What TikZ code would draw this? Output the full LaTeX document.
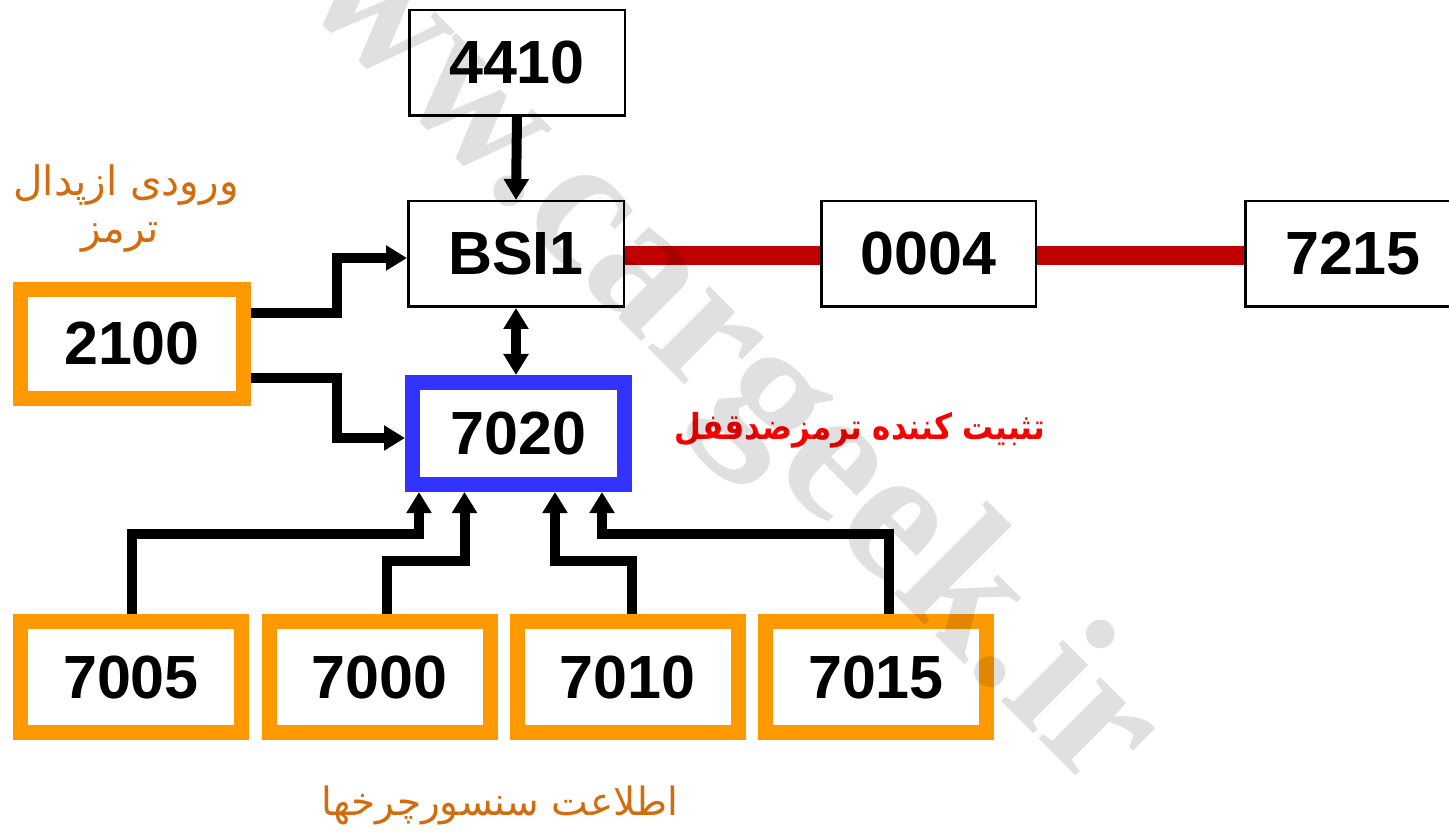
\documentclass[tikz,border=0pt]{standalone}
\usepackage{fontspec}
\setmainfont{Liberation Sans}
\newfontfamily\arabicfont[Script=Arabic]{DejaVu Sans}
\newfontfamily\wmfont{Liberation Serif}
\TeXXeTstate=1
\usetikzlibrary{arrows.meta}
\definecolor{boxorange}{RGB}{255,153,0}
\definecolor{boxblue}{RGB}{51,51,255}
\definecolor{busred}{RGB}{192,0,0}
\definecolor{labelorange}{RGB}{210,108,12}
\definecolor{labelred}{RGB}{250,0,0}
\begin{document}
\begin{tikzpicture}[x=1pt,y=-1pt,
  boxtext/.style={inner sep=0pt, font=\fontsize{61}{61}\selectfont\bfseries},
  thinbox/.style={boxtext, draw=black, line width=2.5pt, fill=white, minimum width=215.5pt, minimum height=105.5pt},
  orbox/.style={boxtext, draw=boxorange, line width=15pt, fill=white, minimum width=221pt, minimum height=111pt},
  bluebox/.style={boxtext, draw=boxblue, line width=15pt, fill=white, minimum width=212pt, minimum height=102pt},
  conn/.style={line width=10pt, -{Triangle[width=24pt,length=21pt]}},
  dconn/.style={line width=10pt, {Triangle[width=24pt,length=21pt]}-{Triangle[width=24pt,length=21pt]}},
  bus/.style={draw=busred, line width=19pt},
  ortext/.style={text=labelorange, inner sep=0pt, font=\arabicfont\fontsize{40.5}{42}\selectfont},
  redtext/.style={text=labelred, inner sep=0pt, font=\arabicfont\bfseries\fontsize{34}{36}\selectfont}
]
\useasboundingbox (0,0) rectangle (1449,834);
\clip (0,0) rectangle (1449,834);
\fill[white] (0,0) rectangle (1449,834);

% boxes
\node[thinbox] (b4410) at (517,63) {4410};
\node[thinbox] (bsi) at (516,254) {BSI1};
\node[thinbox, minimum width=214.5pt] (b0004) at (928.5,254) {0004};
\node[thinbox] (b7215) at (1353,254) {7215};
\node[bluebox] (b7020) at (518.5,433.5) {7020};
\node[orbox, minimum width=223pt, minimum height=109pt] (b2100) at (132,344) {2100};
\node[orbox] (b7005) at (131,677) {7005};
\node[orbox] (b7000) at (379.5,677) {7000};
\node[orbox] (b7010) at (627.5,677) {7010};
\node[orbox] (b7015) at (876,677) {7015};

% red bus lines
\draw[bus] ([yshift=-2pt]bsi.east) -- ([yshift=-2pt]b0004.west);
\draw[bus] ([yshift=-2pt]b0004.east) -- ([yshift=-2pt]b7215.west);

% connectors
\draw[conn] (b4410.south) -- (bsi.north);
\draw[dconn] (bsi.south) -- (bsi.south |- b7020.north);
\draw[conn] ([yshift=31pt]b2100.east) -- ++(86,0) |- ([yshift=-4pt]bsi.west);
\draw[conn] ([yshift=-34pt]b2100.east) -- ++(86,0) |- ([yshift=-4.5pt]b7020.west);
\draw[conn] ([xshift=1pt]b7005.north) -- ++(0,-80) -| ([xshift=-99.5pt]b7020.south);
\draw[conn] ([xshift=7.5pt]b7000.north) -- ++(0,-53.5) -| ([xshift=-54pt]b7020.south);
\draw[conn] ([xshift=4pt]b7010.north) -- ++(0,-53.5) -| ([xshift=36.5pt]b7020.south);
\draw[conn] ([xshift=12.5pt]b7015.north) -- ++(0,-80) -| ([xshift=83.5pt]b7020.south);

% labels
\node[ortext] (lpedal1) at (126,185) {\beginR ورودی ازپدال\endR};
\node[ortext] (lpedal2) at (120,238) {\beginR ترمز\endR};
\node[redtext] (labs) at (860,430) {\scalebox{0.91}[1.05]{\beginR تثبیت کننده ترمزضدقفل\endR}};
\node[ortext, font=\arabicfont\fontsize{39}{41}\selectfont] (lwheel) at (500,805) {\beginR اطلاعت سنسورچرخها\endR};

% watermark
\node[font=\wmfont\bfseries\fontsize{190}{190}\selectfont, text=black, text opacity=0.12,
  rotate=-45, anchor=base west, inner sep=0pt] (wm) at (200,-100) {www.cargeek.ir};
\end{tikzpicture}
\end{document}
